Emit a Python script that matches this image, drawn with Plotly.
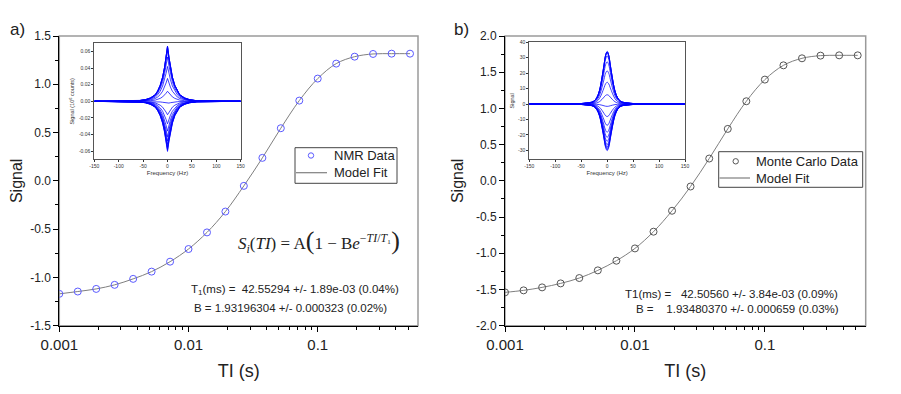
import plotly.graph_objects as go

# ---------------- data ----------------
ti_s = [0.001, 0.00139, 0.00193, 0.00268, 0.00373, 0.00518, 0.00720, 0.0100,
        0.0139, 0.0193, 0.0268, 0.0373, 0.0518, 0.0720, 0.100, 0.139, 0.193,
        0.268, 0.373, 0.518]
nmr_signal = [-1.170, -1.146, -1.119, -1.077, -1.015, -0.940, -0.837, -0.706,
              -0.534, -0.318, -0.052, 0.238, 0.545, 0.831, 1.059, 1.214, 1.286,
              1.314, 1.317, 1.317]
mc_signal = [-1.540, -1.512, -1.471, -1.416, -1.342, -1.236, -1.103, -0.933,
             -0.702, -0.413, -0.078, 0.308, 0.717, 1.099, 1.398, 1.595, 1.692,
             1.729, 1.733, 1.733]

# inset spectra (peak heights, one per TI)
nmr_peaks = [-0.0605, -0.0590, -0.0575, -0.0552, -0.0520, -0.0480, -0.0428, -0.0360,
             -0.0272, -0.0162, -0.0027, 0.0121, 0.0276, 0.0420, 0.0535, 0.0612,
             0.0648, 0.0662, 0.0664, 0.0665]
mc_peaks = [-30.2, -29.6, -28.8, -27.8, -26.3, -24.2, -21.6, -18.3, -13.8, -8.1,
            -1.5, 6.0, 14.1, 21.5, 27.4, 31.3, 33.2, 33.9, 34.0, 34.0]

freq_a = [-150, -60, -45, -35, -25, -20, -15, -10, -6, -3, 0, 3, 6, 10, 15, 20, 25, 35, 45, 60, 150]
shape_a = [0.0, 0.01, 0.03, 0.06, 0.12, 0.19, 0.29, 0.44, 0.62, 0.80, 1.0,
           0.80, 0.62, 0.44, 0.29, 0.19, 0.12, 0.06, 0.03, 0.01, 0.0]
freq_b = [-150, -70, -50, -40, -30, -25, -20, -15, -10, -6, -3, 0, 3, 6, 10, 15, 20, 25, 30, 40, 50, 70, 150]
shape_b = [0.0, 0.005, 0.01, 0.02, 0.035, 0.06, 0.12, 0.25, 0.50, 0.75, 0.93, 1.0,
           0.93, 0.75, 0.50, 0.25, 0.12, 0.06, 0.035, 0.02, 0.01, 0.005, 0.0]

x_major = [0.001, 0.01, 0.1]
x_major_text = ["0.001", "0.01", "0.1"]
x_minor = [0.002, 0.003, 0.004, 0.005, 0.006, 0.007, 0.008, 0.009,
           0.02, 0.03, 0.04, 0.05, 0.06, 0.07, 0.08, 0.09,
           0.2, 0.3, 0.4, 0.5]
ya_ticks = [-1.5, -1.0, -0.5, 0.0, 0.5, 1.0, 1.5]
ya_text = ["-1.5", "-1.0", "-0.5", "0.0", "0.5", "1.0", "1.5"]
yb_ticks = [-2.0, -1.5, -1.0, -0.5, 0.0, 0.5, 1.0, 1.5, 2.0]
yb_text = ["-2.0", "-1.5", "-1.0", "-0.5", "0.0", "0.5", "1.0", "1.5", "2.0"]
fr_ticks = [-150, -100, -50, 0, 50, 100, 150]
fr_text = ["-150", "-100", "-50", "0", "50", "100", "150"]
ia_ticks = [-0.06, -0.04, -0.02, 0.0, 0.02, 0.04, 0.06]
ia_text = ["-0.06", "-0.04", "-0.02", "0.00", "0.02", "0.04", "0.06"]
ib_ticks = [-30, -20, -10, 0, 10, 20, 30, 40]
ib_text = ["-30", "-20", "-10", "0", "10", "20", "30", "40"]

# The page body has an 8px margin: draw the figure 16px smaller and map page pixels to paper.
OFF = 8
W, H = 901 - 2 * OFF, 394 - 2 * OFF
def px(x):
    return (x - OFF) / W
def py(y):
    return 1 - (y - OFF) / H

FONT = "Liberation Sans, Arial, sans-serif"
fig = go.Figure()

# ---------- panel a ----------
fig.add_trace(go.Scatter(x=ti_s, y=nmr_signal, mode="lines", line=dict(color="#7f7f7f", width=1, shape="spline"),
                         name="Model Fit", xaxis="x", yaxis="y", showlegend=False))
fig.add_trace(go.Scatter(x=ti_s, y=nmr_signal, mode="markers",
                         marker=dict(symbol="circle-open", size=7, color="#5a5aff", line=dict(width=1)),
                         name="NMR Data", xaxis="x", yaxis="y", showlegend=False))
# ---------- panel b ----------
fig.add_trace(go.Scatter(x=ti_s, y=mc_signal, mode="lines", line=dict(color="#7f7f7f", width=1, shape="spline"),
                         name="Model Fit", xaxis="x2", yaxis="y2", showlegend=False))
fig.add_trace(go.Scatter(x=ti_s, y=mc_signal, mode="markers",
                         marker=dict(symbol="circle-open", size=7, color="#555555", line=dict(width=1)),
                         name="Monte Carlo Data", xaxis="x2", yaxis="y2", showlegend=False))

# ---------- insets ----------
for p in nmr_peaks:
    fig.add_trace(go.Scatter(x=freq_a, y=[p * s for s in shape_a], mode="lines",
                             line=dict(color="rgba(0,0,255,0.75)", width=1),
                             xaxis="x3", yaxis="y3", showlegend=False, hoverinfo="skip"))
for p in mc_peaks:
    fig.add_trace(go.Scatter(x=freq_b, y=[p * s for s in shape_b], mode="lines",
                             line=dict(color="rgba(0,0,255,0.75)", width=1, shape="spline"),
                             xaxis="x4", yaxis="y4", showlegend=False, hoverinfo="skip"))

main_y_dom = [py(325.7), py(36)]
xa_common = dict(type="log", range=[-3, -0.224], tickmode="array", tickvals=x_major, ticktext=x_major_text,
                 ticks="outside", ticklen=5, tickcolor="black", showline=True, linecolor="black", linewidth=1,
                 showgrid=False, zeroline=False, automargin=False,
                 tickfont=dict(size=15, color="#222", family=FONT),
                 title=dict(text="TI (s)", font=dict(size=18, color="#222", family=FONT), standoff=12),
                 minor=dict(tickmode="array", tickvals=x_minor, ticks="outside", ticklen=3, tickcolor="black", showgrid=False))
ya_common = dict(tickmode="array", ticks="outside", ticklen=5, tickcolor="black", showline=True, linecolor="black",
                 linewidth=1, showgrid=False, zeroline=False, automargin=False,
                 tickfont=dict(size=12, color="#222", family=FONT),
                 title=dict(text="Signal", font=dict(size=16, color="#222", family=FONT), standoff=8),
                 minor=dict(dtick=0.25, tick0=0, ticks="outside", ticklen=3, tickcolor="black", showgrid=False))

inset_x = dict(range=[-150, 150], tickmode="array", tickvals=fr_ticks, ticktext=fr_text, ticks="outside",
               ticklen=2, tickcolor="#333", showline=True, mirror=True, linecolor="#555", linewidth=1,
               showgrid=False, zeroline=False, automargin=False,
               tickfont=dict(size=5, color="#333", family=FONT),
               title=dict(text="Frequency (Hz)", font=dict(size=6, color="#333", family=FONT), standoff=2))
inset_y = dict(tickmode="array", ticks="outside", ticklen=2, tickcolor="#333", showline=True, mirror=True,
               linecolor="#555", linewidth=1, showgrid=False, zeroline=False, automargin=False,
               tickfont=dict(size=5, color="#333", family=FONT))

fig.update_layout(
    width=W, height=H, margin=dict(l=0, r=0, t=0, b=0, pad=0, autoexpand=False),
    paper_bgcolor="white", plot_bgcolor="white", showlegend=False,
    font=dict(family=FONT, color="#222"),
    xaxis=dict(domain=[px(59.3), px(418)], anchor="y", **xa_common),
    yaxis=dict(domain=main_y_dom, anchor="x", range=[-1.5, 1.5], tickvals=ya_ticks, ticktext=ya_text, **ya_common),
    xaxis2=dict(domain=[px(505), px(865.7)], anchor="y2", **xa_common),
    yaxis2=dict(domain=main_y_dom, anchor="x2", range=[-2.0, 2.0], tickvals=yb_ticks, ticktext=yb_text, **ya_common),
    xaxis3=dict(domain=[px(94.3), px(240.7)], anchor="y3", **inset_x),
    yaxis3=dict(domain=[py(159.3), py(43.3)], anchor="x3", range=[-0.07, 0.07], tickvals=ia_ticks, ticktext=ia_text,
                title=dict(text="Signal (10<sup>6</sup> counts)", font=dict(size=5.5, color="#333", family=FONT), standoff=3),
                **inset_y),
    xaxis4=dict(domain=[px(529.3), px(685)], anchor="y4", **inset_x),
    yaxis4=dict(domain=[py(159.3), py(42.3)], anchor="x4", range=[-35.8, 40], tickvals=ib_ticks, ticktext=ib_text,
                title=dict(text="Signal", font=dict(size=5.5, color="#333", family=FONT), standoff=3),
                **inset_y),
)

# gray frames (top/right) for the main plots
for xr, yr in (("x", "y"), ("x2", "y2")):
    fig.add_shape(type="rect", xref=f"{xr} domain", yref=f"{yr} domain", x0=0, x1=1, y0=0, y1=1,
                  line=dict(color="#9a9a9a", width=1.5), layer="below")

# manual legends (box, marker sample, line sample)
def legend_box(x0, y0, x1, y1, mx, my, mcolor, lx0, lx1, ly):
    fig.add_shape(type="rect", xref="paper", yref="paper", x0=px(x0), x1=px(x1), y0=py(y1), y1=py(y0),
                  line=dict(color="#444", width=1), fillcolor="white", layer="above")
    r = 2.7
    fig.add_shape(type="circle", xref="paper", yref="paper", x0=px(mx - r), x1=px(mx + r),
                  y0=py(my + r), y1=py(my - r), line=dict(color=mcolor, width=1), layer="above")
    fig.add_shape(type="line", xref="paper", yref="paper", x0=px(lx0), x1=px(lx1), y0=py(ly), y1=py(ly),
                  line=dict(color="#7f7f7f", width=1.2), layer="above")

legend_box(295, 147.7, 397, 183.3, 311, 155.5, "#5a5aff", 296, 327, 172.7)
legend_box(718.7, 151.7, 862.7, 187.3, 735.7, 161.3, "#555555", 719.5, 750, 178)

ann = []
def A(text, x, y, size, **kw):
    d = dict(text=text, x=px(x), y=py(y), xref="paper", yref="paper", showarrow=False,
             font=dict(size=size, family=kw.pop("family", FONT), color=kw.pop("color", "#222")),
             xanchor=kw.pop("xanchor", "center"), yanchor=kw.pop("yanchor", "middle"))
    d.update(kw)
    ann.append(d)

A("a)", 17, 29, 17)
A("b)", 461, 29, 17)
A("NMR Data", 331.5, 155.5, 13, xanchor="left")
A("Model Fit", 331.5, 172.7, 13, xanchor="left")
A("Monte Carlo Data", 754, 161.3, 13, xanchor="left")
A("Model Fit", 754, 178, 13, xanchor="left")
A("T<sub>1</sub>(ms) =\u00a0 42.55294 +/- 1.89e-03 (0.04%)", 295, 290, 11.5)
A("B = 1.93196304 +/- 0.000323 (0.02%)", 290, 307.7, 11.5)
A("T1(ms) =\u00a0\u00a0 42.50560 +/- 3.84e-03 (0.09%)", 731, 294, 11.5)
A("B =\u00a0\u00a0\u00a0 1.93480370 +/- 0.000659 (0.03%)", 737.5, 309, 11.5)
A("<i>S<sub>i</sub></i>(<i>TI</i>) = A<span style='font-size:26px'>(</span>1 − B<i>e</i>"
  "<sup>−<i>TI</i>/<i>T</i>₁</sup><span style='font-size:26px'>)</span>",
  319, 241, 17, family="Liberation Serif, DejaVu Serif, serif")
fig.update_layout(annotations=ann)

fig.write_html("out.html")
